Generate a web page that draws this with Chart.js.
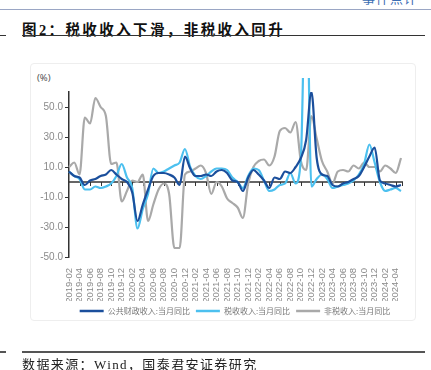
<!DOCTYPE html>
<html>
<head>
<meta charset="utf-8">
<script src="https://cdn.jsdelivr.net/npm/chart.js@4.4.1/dist/chart.umd.min.js"></script>
<style>
html, body { margin: 0; padding: 0; background: #fff; }
body { width: 431px; height: 370px; position: relative; overflow: hidden; }
.abs { position: absolute; }
.topline { left: 0; top: 9px; width: 431px; height: 1px; background: #9aa6c4; }
.corner { left: 362px; top: -12px; font: 13px "Noto Sans CJK SC", sans-serif; color: #3b6db3; letter-spacing: 1px; }
.title { left: 22px; top: 18px; font: bold 14.5px "Liberation Serif", "Noto Sans CJK SC", serif; color: #111; letter-spacing: 2.4px; white-space: nowrap; }
.rule { height: 1px; background: #333; }
.frame { left: 30px; top: 63px; width: 384px; height: 256px; border: 1px solid #eeeeee; border-radius: 4px; }
.unit { left: 37px; top: 71px; font: 9.5px "Noto Sans", sans-serif; color: #555; }
.source { left: 22px; top: 354px; font: 13px "Liberation Serif", "Noto Sans CJK SC", serif; color: #222; letter-spacing: 1.4px; white-space: nowrap; }
canvas { position: absolute; left: 0; top: 0; }
</style>
</head>
<body>
<div class="abs topline"></div>
<div class="abs corner">事件点评</div>
<div class="abs title">图2：税收收入下滑，非税收入回升</div>
<div class="abs rule" style="left:22px;top:35px;width:403px;"></div>
<div class="abs rule" style="left:0;top:35px;width:6px;"></div>
<div class="abs frame"></div>
<div class="abs unit">(%)</div>
<canvas id="chart" width="431" height="370"></canvas>
<div class="abs rule" style="left:22px;top:351px;width:403px;height:1.5px;background:#555;"></div>
<div class="abs rule" style="left:0;top:351px;width:6px;height:1.5px;background:#555;"></div>
<div class="abs source">数据来源：Wind，国泰君安证券研究</div>

<script>
const months = [
    "2019-02", "2019-03", "2019-04", "2019-05", "2019-06", "2019-07", "2019-08", "2019-09", "2019-10", "2019-11", "2019-12",
    "2020-01", "2020-02", "2020-03", "2020-04", "2020-05", "2020-06", "2020-07", "2020-08", "2020-09", "2020-10", "2020-11", "2020-12",
    "2021-01", "2021-02", "2021-03", "2021-04", "2021-05", "2021-06", "2021-07", "2021-08", "2021-09", "2021-10", "2021-11", "2021-12",
    "2022-01", "2022-02", "2022-03", "2022-04", "2022-05", "2022-06", "2022-07", "2022-08", "2022-09", "2022-10", "2022-11", "2022-12",
    "2023-01", "2023-02", "2023-03", "2023-04", "2023-05", "2023-06", "2023-07", "2023-08", "2023-09", "2023-10", "2023-11", "2023-12",
    "2024-01", "2024-02", "2024-03", "2024-04", "2024-05",
];

// 公共财政收入:当月同比
const publicRevenue = [
    7, 4, 3, -2, 1, 2, 4, 5, 8, 5,
    2, 0, -7, -26, -15, -5, 4, 6, 6, 5,
    3, -2, 17, 9, 4, 4, 5, 4, 7, 8,
    6, 1, 0, -6, 3, 8, 5, 1, -4, 3,
    2, 7, 6, 10, 16, 28, 60, 16, 5, 4,
    -2, -3, -1, 0, 2, 4, 10, 17, 23, 1,
    -1, -2, -3, -2,
];

// 税收收入:当月同比
const taxRevenue = [
    7, 4, 2, -5, -5, -3, -4, -3, -1, 4,
    12, 3, -4, -31, -18, -8, 9, 6, 7, 9,
    11, 13, 22, 10, 4, 2, 4, 7, 9, 9,
    8, 3, 0, -4, 4, 9, 8, 1, -6, -5,
    -2, -1, 6, -1, 16, 150, -3, 2, 5, 2,
    -4, -3, -2, -1, 1, 5, 12, 25, 13, 0,
    -6, -5, -4, -6,
];

// 非税收入:当月同比
const nonTaxRevenue = [
    10, 13, 5, 43, 39, 56, 50, 44, 12, 13,
    -13, -6, 1, 0, 5, -26, -15, -5, -1, -8,
    -44, -44, 5, 7, 9, 11, 6, -8, 0, -3,
    -11, -14, -17, -24, -1, 10, 14, 15, 11, 17,
    34, 36, 33, 40, 14, 8, 44, 29, 14, 7,
    -1, 7, 8, 7, 11, 9, 13, 10, 10, 7,
    11, 9, 6, 16,
];

const yTicks = [-50, -30, -10, 10, 30, 50];

const COLORS = {
    public: "#1b4f9c",
    tax: "#4cc0ef",
    nonTax: "#a9a9a9",
    axis: "#333333",
    tickText: "#8a8a8a",
    legendText: "#777777",
};

// x axis drawn through zero, with short ticks every two months
const zeroAxis = {
    id: "zeroAxis",
    beforeDatasetsDraw(chart) {
        const { ctx, chartArea, scales } = chart;
        const y0 = scales.y.getPixelForValue(0);
        ctx.save();
        ctx.strokeStyle = COLORS.axis;
        ctx.lineWidth = 1.5;
        ctx.beginPath();
        ctx.moveTo(chartArea.left, y0);
        ctx.lineTo(chartArea.right + 2, y0);
        ctx.stroke();
        ctx.lineWidth = 1;
        ctx.beginPath();
        for (let i = 2; i < months.length; i += 2) {
            const px = Math.round(scales.x.getPixelForValue(i)) + 0.5;
            ctx.moveTo(px, y0);
            ctx.lineTo(px, y0 + 4);
        }
        const endX = Math.round(chartArea.right + 1) + 0.5;
        ctx.moveTo(endX, y0);
        ctx.lineTo(endX, y0 + 4);
        ctx.stroke();
        ctx.restore();
    },
};

const lineSet = (label, data, color) => ({
    label,
    data,
    borderColor: color,
    backgroundColor: color,
    borderWidth: 2.2,
    pointRadius: 0,
    cubicInterpolationMode: "monotone",
    fill: false,
});

const taxSet = lineSet("税收收入:当月同比", taxRevenue, COLORS.tax);
taxSet.clip = { left: 5, top: 14, right: 5, bottom: 5 };

new Chart(document.getElementById("chart"), {
    type: "line",
    data: {
        labels: months,
        datasets: [
            lineSet("公共财政收入:当月同比", publicRevenue, COLORS.public),
            taxSet,
            lineSet("非税收入:当月同比", nonTaxRevenue, COLORS.nonTax),
        ],
    },
    options: {
        responsive: false,
        animation: false,
        devicePixelRatio: 1,
        layout: { padding: { left: 0, right: 30, top: 92, bottom: 45 } },
        plugins: {
            tooltip: { enabled: false },
            legend: {
                position: "bottom",
                fullSize: false,
                labels: {
                    boxWidth: 24,
                    boxHeight: 2.5,
                    padding: 6,
                    color: COLORS.legendText,
                    font: { family: "'Noto Sans CJK SC', sans-serif", size: 8 },
                    generateLabels: (chart) =>
                        Chart.defaults.plugins.legend.labels.generateLabels(chart).map((l) => ({
                            ...l,
                            lineWidth: 0,
                            fillStyle: l.strokeStyle,
                        })),
                },
            },
        },
        scales: {
            x: {
                type: "category",
                grid: { display: false },
                border: { display: false },
                ticks: {
                    autoSkip: false,
                    minRotation: 90,
                    maxRotation: 90,
                    padding: 3,
                    color: COLORS.tickText,
                    font: { family: "'Liberation Sans', Arial, sans-serif", size: 9.5 },
                    callback: (v, i) => (i % 2 === 0 ? months[i] : ""),
                },
                // keep the label box tall enough: labels are clipped to it
                afterFit: (s) => { s.height = 44; },
            },
            y: {
                min: -50,
                max: 60,
                afterBuildTicks: (s) => { s.ticks = yTicks.map((v) => ({ value: v })); },
                afterFit: (s) => { s.width = 69; },
                grid: {
                    display: true,
                    drawOnChartArea: false,
                    drawTicks: true,
                    tickLength: 4,
                    color: COLORS.axis,
                },
                border: { display: true, color: COLORS.axis, width: 1.5 },
                ticks: {
                    padding: 2,
                    color: COLORS.tickText,
                    font: { family: "'Liberation Sans', Arial, sans-serif", size: 10 },
                    callback: (v) => Number(v).toFixed(1),
                },
            },
        },
    },
    plugins: [zeroAxis],
});
</script>
</body>
</html>
